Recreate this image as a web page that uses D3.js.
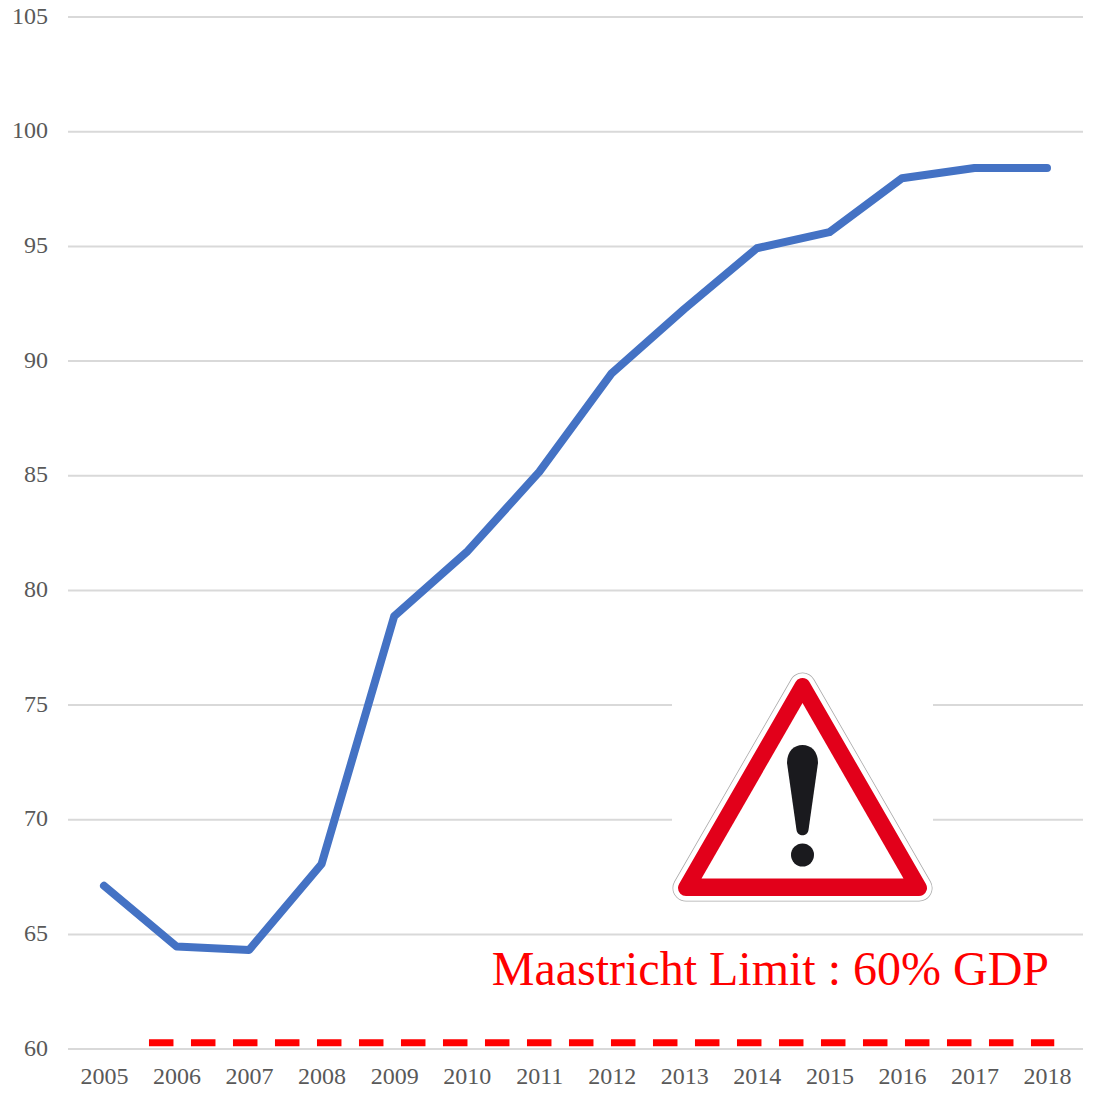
<!DOCTYPE html>
<html><head><meta charset="utf-8">
<script src="https://cdn.jsdelivr.net/npm/d3@7/dist/d3.min.js"></script>
<style>html,body{margin:0;padding:0;background:#fff}svg{display:block}
text{font-family:"Liberation Serif",serif}</style></head><body>
<script>
const years=[2005,2006,2007,2008,2009,2010,2011,2012,2013,2014,2015,2016,2017,2018];
const debt=[67.1,64.45,64.3,68.05,78.85,81.65,85.15,89.45,92.25,94.9,95.6,97.95,98.4,98.4];
const yTicks=[60,65,70,75,80,85,90,95,100,105];
const limitYears=[2005.62,2018.1];
const limitValue=60.26;
const limitLabel="Maastricht Limit : 60% GDP";

const W=1102,H=1095;
const svg=d3.select("body").append("svg").attr("width",W).attr("height",H);
const x=d3.scaleLinear().domain([2005,2018]).range([104,1047]);
const y=d3.scaleLinear().domain([60,105]).range([1048.6,16.6]);
const left=68,right=1083;

const yAxis=d3.axisLeft(y).tickValues(yTicks).tickSize(0).tickPadding(0).tickFormat(d3.format("d"));
const gy=svg.append("g").attr("transform",`translate(${left},0)`).call(yAxis);
gy.select(".domain").remove();
gy.selectAll("line").attr("x1",0).attr("x2",right-left).attr("stroke","#d9d9d9").attr("stroke-width",2);
gy.selectAll("text").attr("x",-20).attr("dy","0").attr("y",1).attr("dominant-baseline","middle")
  .attr("font-size",24).attr("fill","#595959").style("font-family",'"Liberation Serif",serif');

const xAxis=d3.axisBottom(x).tickValues(years).tickSize(0).tickPadding(0).tickFormat(d3.format("d"));
const gx=svg.append("g").attr("transform","translate(0,1049)").call(xAxis);
gx.select(".domain").remove();
gx.selectAll("text").attr("y",35).attr("dy","0").attr("font-size",24)
  .attr("fill","#595959").style("font-family",'"Liberation Serif",serif');

svg.append("path").datum(years.map((d,i)=>[d,debt[i]]))
  .attr("d",d3.line().x(d=>x(d[0])).y(d=>y(d[1])))
  .attr("fill","none").attr("stroke","#4472c4").attr("stroke-width",8)
  .attr("stroke-linecap","round").attr("stroke-linejoin","round");

svg.append("line").attr("x1",x(limitYears[0])).attr("x2",x(limitYears[1]))
  .attr("y1",y(limitValue)).attr("y2",y(limitValue))
  .attr("stroke","#ff0000").attr("stroke-width",7).attr("stroke-dasharray","24.5 17.5");

svg.append("text").attr("x",1049).attr("y",985).attr("text-anchor","end")
  .attr("font-size",48).attr("fill","#ff0000").text(limitLabel);

// warning sign picture
const sign=svg.append("g");
sign.append("rect").attr("x",672).attr("y",668).attr("width",261).attr("height",236).attr("fill","#fff");
const core="M802.5,686L919,888L686,888Z";
const inner="M802.5,703L903.5,878.5L701.5,878.5Z";
sign.append("path").attr("d",core).attr("fill","#aaa").attr("stroke","#aaa").attr("stroke-width",27).attr("stroke-linejoin","round");
sign.append("path").attr("d",core).attr("fill","#fff").attr("stroke","#fff").attr("stroke-width",25.5).attr("stroke-linejoin","round");
sign.append("path").attr("d",core).attr("fill","#e2001a").attr("stroke","#e2001a").attr("stroke-width",16).attr("stroke-linejoin","round");
sign.append("path").attr("d",inner).attr("fill","#fff");
sign.append("path").attr("fill","#1a1a1e")
  .attr("d","M787,763C787,751 794,745 802.5,745C811,745 818,751 818,763L808.5,830C807.5,837 797.5,837 796.5,830Z");
sign.append("circle").attr("cx",802.5).attr("cy",855).attr("r",11.5).attr("fill","#1a1a1e");
</script></body></html>
